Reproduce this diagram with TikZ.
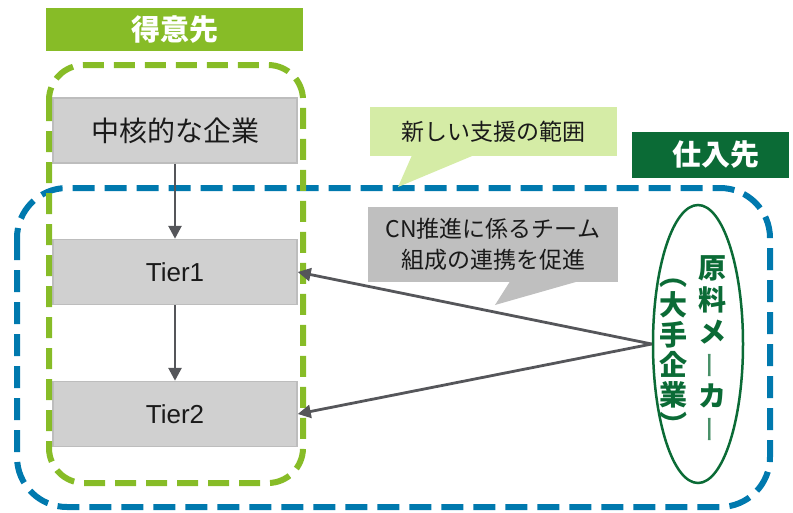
\documentclass[tikz,border=0pt]{standalone}
\usepackage{fontspec}
\setmainfont{Noto Sans CJK JP}
\newfontfamily\latinfont{Liberation Sans}
\usetikzlibrary{arrows.meta,shapes.geometric,calc}
\definecolor{lgreen}{HTML}{87BC27}
\definecolor{dgreen}{HTML}{0B6B36}
\definecolor{bblue}{HTML}{0079AE}
\definecolor{boxfill}{HTML}{D0D0D0}
\definecolor{boxline}{HTML}{BDBDBD}
\definecolor{callgreen}{HTML}{D5ECA6}
\definecolor{callgray}{HTML}{BFBFBF}
\definecolor{arrgray}{HTML}{55565A}
\definecolor{txt}{HTML}{1A1A1A}
\newcommand{\vbar}{\textcolor{dgreen!75}{\mdseries\rotatebox[origin=c]{90}{\rule[-0.12em]{0pt}{0.88em}ー}}}
\tikzset{
  graybox/.style={draw=boxline, line width=1.5pt, fill=boxfill, minimum width=244pt, minimum height=65pt, inner sep=0pt, text=txt},
  arr/.style={draw=arrgray, line width=2.8pt, -{Triangle[length=13pt,width=13pt]}},
  header/.style={inner sep=0pt, text=white, font=\bfseries\fontsize{29}{32}\selectfont},
  calltext/.style={inner sep=0pt, text=txt, font=\fontsize{23}{31}\selectfont, align=center},
  vcol/.style={inner sep=0pt, text=dgreen, align=center, anchor=north}
}
\begin{document}
\begin{tikzpicture}[x=1pt,y=-1pt]
\useasboundingbox (0,0) rectangle (793,512);
% outer blue dashed region
\draw[bblue, line width=6pt, dash pattern=on 22pt off 10pt, rounded corners=50pt] (17,188) rectangle (770,507);
% gray boxes
\node[graybox, font=\fontsize{28}{32}\selectfont] (core) at (175,130.5) {中核的な企業};
\node[graybox, font=\latinfont\fontsize{26}{30}\selectfont] (t1) at (175,272) {Tier1};
\node[graybox, font=\latinfont\fontsize{26}{30}\selectfont] (t2) at (175,414) {Tier2};
% green dashed region
\draw[lgreen, line width=6pt, dash pattern=on 21pt off 10pt, rounded corners=35pt] (49,65) rectangle (303,483);
% headers
\node[header, fill=lgreen, minimum width=257pt, minimum height=43pt] (hdrA) at (174.5,29.5) {得意先};
\node[header, fill=dgreen, minimum width=157pt, minimum height=46pt] (hdrB) at (710.5,155) {\hspace*{10pt}仕入先};
% callout: new support range
\node[calltext, fill=callgreen, minimum width=247pt, minimum height=49pt] (scope) at (493.5,131.5) {新しい支援の範囲};
\coordinate (scopetip) at (398,187);
\fill[callgreen] ($(scope.south west)+(42,-0.5)$) -- (scopetip) -- ($(scope.south west)+(103,-0.5)$) -- cycle;
% callout: CN
\node[calltext, fill=callgray, minimum width=250pt, minimum height=75pt] (cn) at (493,244.5) {CN推進に係るチーム\\組成の連携を促進};
\coordinate (cntip) at (495,305);
\fill[callgray] ($(cn.south west)+(142,-0.5)$) -- (cntip) -- ($(cn.south west)+(209,-0.5)$) -- cycle;
% vertical arrows
\draw[arr] (core.south) -- (t1.north);
\draw[arr] (t1.south) -- (t2.north);
% maker ellipse
\node[ellipse, draw=dgreen, line width=2.5pt, minimum width=90pt, minimum height=278pt, inner sep=0pt] (maker) at (698,344) {};
\node[vcol, font=\bfseries\fontsize{28}{32}\selectfont] (makerA) at (712,255) {原\\料\\メ\\\vbar\\カ\\\vbar};
\node[vcol, font=\bfseries\fontsize{28}{30}\selectfont] (makerB) at (673,279) {︵\\大\\手\\企\\業\\︶};
% connectors from maker
\draw[arr] (maker.west) -- (t1.east);
\draw[arr] (maker.west) -- (t2.east);
\end{tikzpicture}
\end{document}
